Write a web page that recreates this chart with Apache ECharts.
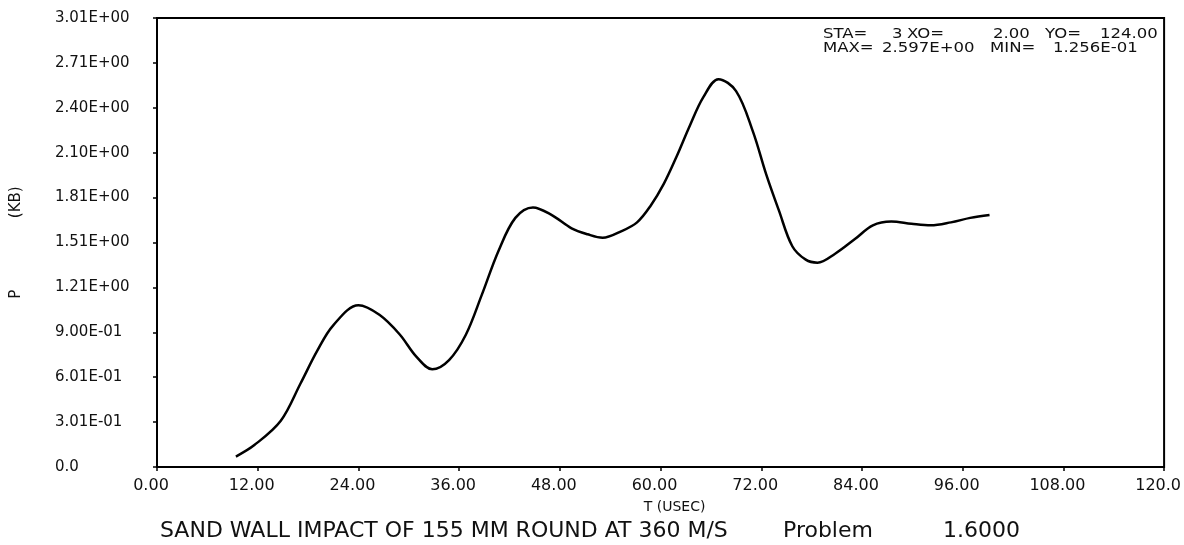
<!DOCTYPE html>
<html>
<head>
<meta charset="utf-8">
<script src="https://cdn.jsdelivr.net/npm/echarts@6/dist/echarts.min.js"></script>
<style>
  html, body { margin: 0; padding: 0; background: #fff; }
  #chart { width: 1184px; height: 545px; }
</style>
</head>
<body>
<div id="chart"></div>
<script>
// Time (USEC) and pressure P (KB)
const tValues = [9.4, 11.6, 14.75, 17.1, 19.1, 21.0, 24.0, 26.5, 28.9, 30.9, 32.8, 34.8, 36.8, 38.7, 40.7, 42.7, 44.8, 47.0, 49.4, 51.3, 53.1, 55.3, 57.2, 58.8, 60.4, 61.9, 63.5, 65.1, 66.9, 69.0, 71.0, 72.6, 74.1, 75.7, 77.3, 78.7, 80.8, 83.2, 85.3, 87.5, 89.9, 92.2, 94.6, 96.9, 99.2];
const pValues = [0.07, 0.147, 0.31, 0.56, 0.78, 0.95, 1.084, 1.02, 0.89, 0.74, 0.655, 0.717, 0.887, 1.154, 1.45, 1.67, 1.74, 1.69, 1.60, 1.56, 1.537, 1.58, 1.64, 1.75, 1.90, 2.08, 2.29, 2.48, 2.60, 2.52, 2.25, 1.96, 1.72, 1.48, 1.39, 1.37, 1.43, 1.53, 1.62, 1.645, 1.63, 1.62, 1.64, 1.67, 1.69];

const xTickLabels = ['0.00', '12.00', '24.00', '36.00', '48.00', '60.00', '72.00', '84.00', '96.00', '108.00', '120.0'];
const yTickLabels = ['0.0', '3.01E-01', '6.01E-01', '9.00E-01', '1.21E+00', '1.51E+00', '1.81E+00', '2.10E+00', '2.40E+00', '2.71E+00', '3.01E+00'];

const xAxisTitle = 'T (USEC)';
const yAxisTitle = 'P               (KB)';
const footerParts = ['SAND WALL IMPACT OF 155 MM ROUND AT 360 M/S', 'Problem', '1.6000'];
const infoLine1 = ['STA=', '3', 'XO=', '2.00', 'YO=', '124.00'];
const infoLine2 = ['MAX=', '2.597E+00', 'MIN=', '1.256E-01'];

const FONT = 'DejaVu Sans';
const chart = echarts.init(document.getElementById('chart'), null, { renderer: 'canvas' });

const line1X = [823, 892, 907, 993, 1045, 1100];
const line2X = [823, 882, 990, 1053];
const footerX = [160, 783, 943];

const graphics = [];
infoLine1.forEach((s, i) => graphics.push({
  type: 'text', x: line1X[i], y: 27, scaleX: 1.18,
  style: { text: s, font: '14px "DejaVu Sans"', fill: '#111' }
}));
infoLine2.forEach((s, i) => graphics.push({
  type: 'text', x: line2X[i], y: 41, scaleX: 1.18,
  style: { text: s, font: '14px "DejaVu Sans"', fill: '#111' }
}));
footerParts.forEach((s, i) => graphics.push({
  type: 'text', left: footerX[i], top: 520,
  style: { text: s, font: '22px "DejaVu Sans"', fill: '#111' }
}));

chart.setOption({
  animation: false,
  backgroundColor: '#fff',
  grid: {
    left: 157, right: 15, top: 18, bottom: 78,
    show: true, borderColor: '#000', borderWidth: 2, backgroundColor: 'transparent'
  },
  xAxis: {
    type: 'value', min: 0, max: 120, interval: 12,
    name: xAxisTitle, nameLocation: 'middle', nameGap: 33,
    nameTextStyle: { fontFamily: FONT, fontSize: 14, color: '#111', padding: [0, 0, 0, 28] },
    axisLine: { show: true, onZero: false, lineStyle: { color: '#000', width: 2 } },
    axisTick: { show: true, inside: false, length: 4, lineStyle: { color: '#000', width: 1.5 } },
    splitLine: { show: false },
    axisLabel: {
      margin: 11, fontFamily: FONT, fontSize: 16, color: '#111',
      padding: [0, 12, 0, 0],
      formatter: v => xTickLabels[Math.round(v / 12)]
    }
  },
  yAxis: {
    type: 'value', min: 0, max: 3.01, interval: 0.301,
    name: yAxisTitle, nameLocation: 'middle', nameRotate: 90, nameGap: 133,
    nameTextStyle: { fontFamily: FONT, fontSize: 15, color: '#111' },
    axisLine: { show: true, lineStyle: { color: '#000', width: 2 } },
    axisTick: { show: true, inside: false, length: 4, lineStyle: { color: '#000', width: 1.5 } },
    splitLine: { show: false },
    axisLabel: {
      margin: 102, align: 'left', fontFamily: FONT, fontSize: 15, color: '#111',
      formatter: v => yTickLabels[Math.round(v / 0.301)]
    }
  },
  series: [{
    type: 'line',
    data: tValues.map((t, i) => [t, pValues[i]]),
    smooth: 0.35,
    showSymbol: false,
    lineStyle: { color: '#000', width: 2.5 }
  }],
  graphic: graphics
});
</script>
</body>
</html>
